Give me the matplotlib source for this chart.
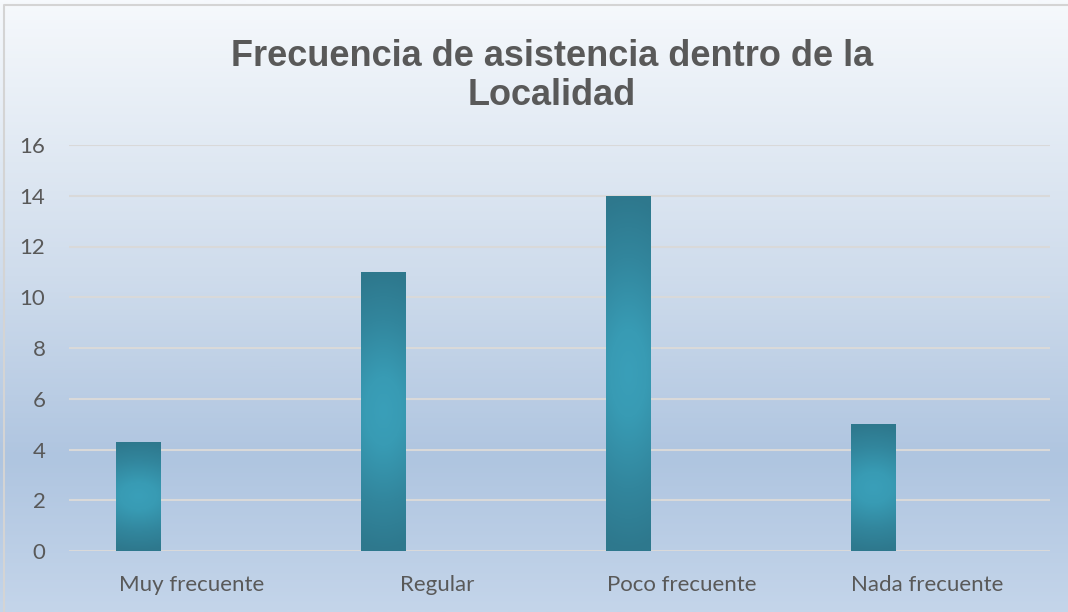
import numpy as np
import matplotlib.pyplot as plt
from matplotlib.colors import LinearSegmentedColormap

# data
categories = ['Muy frecuente', 'Regular', 'Poco frecuente', 'Nada frecuente']
values = [4.3, 11, 14, 5]
yticks = [0, 2, 4, 6, 8, 10, 12, 14, 16]
title = 'Frecuencia de asistencia dentro de la\nLocalidad'

W, H = 1068, 612
fig = plt.figure(figsize=(W / 100, H / 100), dpi=100)

# background gradient (whole chart area)
bg = fig.add_axes([0, 0, 1, 1])
bg.set_axis_off()
stops = [(0.0, '#f6f9fc'), (0.45, '#cfdcec'), (0.75, '#afc5e0'), (1.0, '#c4d5ea')]
bg_cmap = LinearSegmentedColormap.from_list('bg', stops)
grad = np.linspace(0, 1, 400).reshape(-1, 1)
bg.imshow(grad, aspect='auto', cmap=bg_cmap, extent=[0, 1, 0, 1], origin='upper')
bg.set_xlim(0, 1)
bg.set_ylim(0, 1)
# chart border (top and left visible)
bg.plot([4 / W, 4 / W, 1], [0, 1 - 5 / H, 1 - 5 / H], color='#d4d4d4', lw=1.5)

# plot area
left, right = 69 / W, 1050 / W
bottom, top = (H - 551) / H, (H - 145) / H
ax = fig.add_axes([left, bottom, right - left, top - bottom])
ax.patch.set_alpha(0)
for s in ax.spines.values():
    s.set_visible(False)

x = np.arange(len(categories))
ax.set_yticks(yticks)
ax.yaxis.grid(True, color='#d9d9d9', lw=1.5)
ax.set_axisbelow(True)
ax.tick_params(length=0, labelsize=16, labelcolor='#595959')
ax.set_xticks(x)
ax.set_xticklabels(categories, fontfamily='Lato')
for lab in ax.get_yticklabels():
    lab.set_fontfamily('Lato')
ax.tick_params(axis='x', pad=17)
ax.tick_params(axis='y', pad=17)

bar_cmap = LinearSegmentedColormap.from_list(
    'bar', [(0.0, '#3a9fb9'), (0.25, '#389bb4'), (0.65, '#32869d'), (1.0, '#2e788d')])
offset = -0.22
width = 0.18
bars = ax.bar(x + offset, values, width=width, color='none', edgecolor='none', zorder=3)

# radial-ish shading inside each bar
for b in bars:
    bx, by = b.get_x(), b.get_y()
    bw, bh = b.get_width(), b.get_height()
    ny, nx = 200, 40
    yy, xx = np.mgrid[-1:1:ny * 1j, -1:1:nx * 1j]
    r = np.sqrt(yy ** 2 + (0.3 * xx) ** 2)
    r = np.clip(r, 0, 1)
    im = ax.imshow(r, cmap=bar_cmap, vmin=0, vmax=1, aspect='auto',
                   extent=[bx, bx + bw, by, by + bh], origin='lower', zorder=3,
                   interpolation='bilinear')
    im.set_clip_path(b)

ax.set_xlim(-0.5, len(categories) - 0.5)
ax.set_ylim(0, 16)

fig.text(0.5165, 1 - 76 / H, title, ha='center', va='center', fontsize=26,
         fontweight='bold', color='#595959', fontfamily='Liberation Sans',
         linespacing=1.12)

fig.savefig('out.png', dpi=100)
